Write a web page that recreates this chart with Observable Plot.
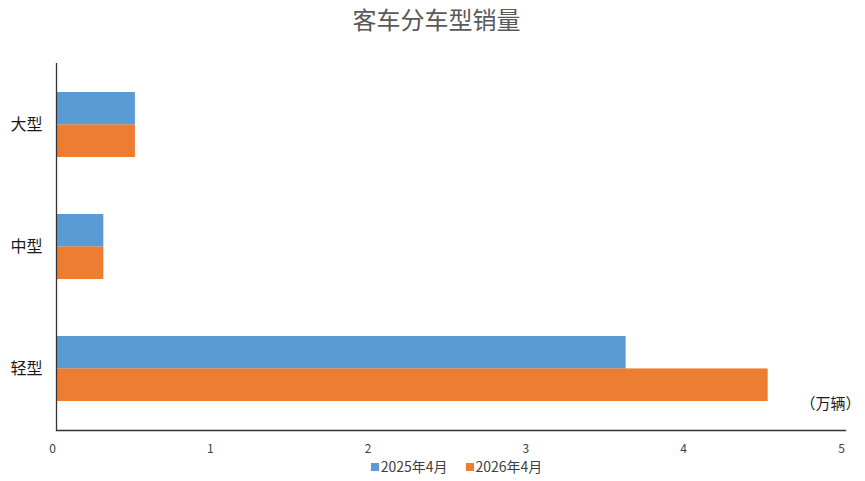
<!DOCTYPE html>
<html><head><meta charset="utf-8">
<script src="https://cdn.jsdelivr.net/npm/d3@7"></script>
<script src="https://cdn.jsdelivr.net/npm/@observablehq/plot@0.6"></script>
<style>
body{margin:0;background:#fff;font-family:"Noto Sans CJK SC",sans-serif;}
#title{height:42px;line-height:38px;text-align:center;font-size:24px;color:#595959;padding-left:8px;}
#legend{display:flex;justify-content:center;gap:18px;font-size:14px;color:#404040;margin-top:1px;padding-left:48px;}
#legend span.sw{display:inline-block;width:8px;height:8px;margin-right:2px;vertical-align:middle;position:relative;top:-1px;}
</style></head>
<body>
<div id="title">客车分车型销量</div>
<div id="chart"></div>
<div id="legend"></div>
<script>
const categories = ["大型", "中型", "轻型"];
const seriesNames = ["2025年4月", "2026年4月"];
const values2025 = [0.50, 0.30, 3.61];
const values2026 = [0.50, 0.30, 4.51];
const xTicks = [0, 1, 2, 3, 4, 5];
const colors = ["#5B9BD5", "#ED7D31"];
const unitLabel = "（万辆）";

const data = [];
categories.forEach((c, i) => {
  data.push({cat: c, series: seriesNames[0], value: values2025[i]});
  data.push({cat: c, series: seriesNames[1], value: values2026[i]});
});

const H = 413;
const mTop = 21, mBottom = 25;
const stepPx = (H - mTop - mBottom) / categories.length;
const padding = 0.47;
const barH = stepPx * (1 - padding) / 2;

const chart = Plot.plot({
  width: 865, height: H,
  marginTop: mTop, marginBottom: mBottom, marginLeft: 56, marginRight: 20,
  style: {fontFamily: "'Noto Sans CJK SC', sans-serif", color: "#404040", background: "#fff"},
  x: {domain: [0, 5], axis: null, label: null},
  y: {domain: categories, paddingInner: padding, paddingOuter: padding / 2, axis: null, label: null},
  color: {domain: seriesNames, range: colors},
  marks: [
    Plot.barX(data.filter(d => d.series === seriesNames[0]), {x: "value", y: "cat", fill: "series", insetBottom: barH}),
    Plot.barX(data.filter(d => d.series === seriesNames[1]), {x: "value", y: "cat", fill: "series", insetTop: barH}),
    Plot.axisY({tickSize: 0, tickPadding: 14, fontSize: 16, color: "#1a1a1a", label: null}),
    Plot.axisX({ticks: xTicks, tickFormat: "d", tickSize: 0, tickPadding: 14, fontSize: 12, dx: -4, color: "#404040", label: null}),
    Plot.ruleX([0], {stroke: "#333", strokeWidth: 1.3}),
    Plot.frame({anchor: "bottom", stroke: "#333", strokeWidth: 1.3}),
    Plot.text([unitLabel], {frameAnchor: "bottom-right", dx: 15, dy: -22, fontSize: 15, fill: "#1a1a1a"})
  ]
});
document.getElementById("chart").appendChild(chart);

const legend = document.getElementById("legend");
seriesNames.forEach((s, i) => {
  const item = document.createElement("div");
  item.innerHTML = `<span class="sw" style="background:${colors[i]}"></span>${s}`;
  legend.appendChild(item);
});
</script>
</body></html>
